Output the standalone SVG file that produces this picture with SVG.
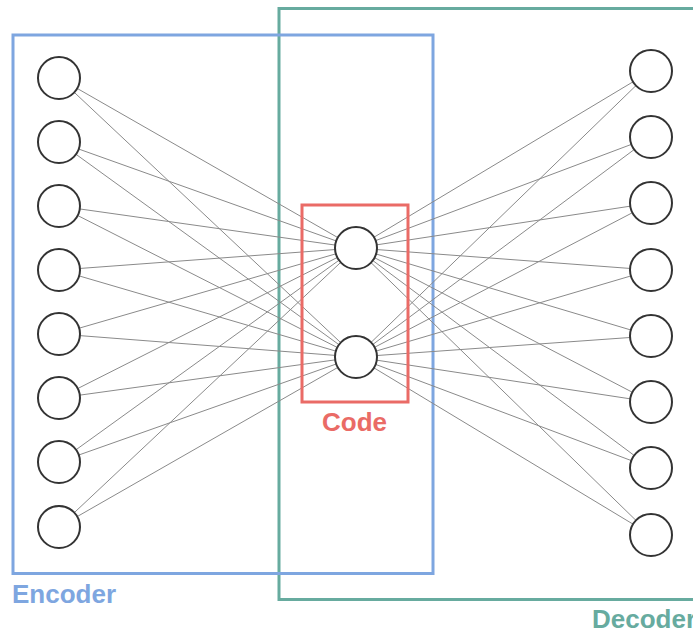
<svg xmlns="http://www.w3.org/2000/svg" width="693" height="630" viewBox="0 0 693 630">
<style>
.n{fill:#fff;stroke:#333;stroke-width:2}
.e{stroke:#8a8a8a;stroke-width:1}
.lbl{font-family:"Liberation Sans",Arial,sans-serif;font-weight:bold;font-size:26px}
</style>
<rect width="693" height="630" fill="#fff"/>
<g id="decoder">
<rect x="279" y="8.5" width="440" height="591" fill="none" stroke="#67AB9F" stroke-width="3"/>
<text class="lbl" x="592" y="628" fill="#67AB9F">Decoder</text>
</g>
<g id="encoder">
<rect x="13" y="35" width="420" height="538.5" fill="none" stroke="#7EA6E0" stroke-width="3"/>
<text class="lbl" x="12" y="603" fill="#7EA6E0">Encoder</text>
</g>
<g id="connectors">
<path class="e" d="M59 78L356 248M59 78L356 357M59 142L356 248M59 142L356 357M59 206L356 248M59 206L356 357M59 270L356 248M59 270L356 357M59 334L356 248M59 334L356 357M59 398L356 248M59 398L356 357M59 462L356 248M59 462L356 357M59 527L356 248M59 527L356 357"/>
<path class="e" d="M356 248L651 71M356 357L651 71M356 248L651 137M356 357L651 137M356 248L651 203M356 357L651 203M356 248L651 270M356 357L651 270M356 248L651 336M356 357L651 336M356 248L651 402M356 357L651 402M356 248L651 468M356 357L651 468M356 248L651 535M356 357L651 535"/>
</g>
<g id="code">
<rect x="302" y="205" width="106" height="197" fill="none" stroke="#EA6B66" stroke-width="3"/>
<text class="lbl" x="354.5" y="431" text-anchor="middle" fill="#EA6B66">Code</text>
</g>
<g id="in1"><circle class="n" cx="59" cy="78" r="21"/></g>
<g id="in2"><circle class="n" cx="59" cy="142" r="21"/></g>
<g id="in3"><circle class="n" cx="59" cy="206" r="21"/></g>
<g id="in4"><circle class="n" cx="59" cy="270" r="21"/></g>
<g id="in5"><circle class="n" cx="59" cy="334" r="21"/></g>
<g id="in6"><circle class="n" cx="59" cy="398" r="21"/></g>
<g id="in7"><circle class="n" cx="59" cy="462" r="21"/></g>
<g id="in8"><circle class="n" cx="59" cy="527" r="21"/></g>
<g id="c1"><circle class="n" cx="356" cy="248" r="21"/></g>
<g id="c2"><circle class="n" cx="356" cy="357" r="21"/></g>
<g id="out1"><circle class="n" cx="651" cy="71" r="21"/></g>
<g id="out2"><circle class="n" cx="651" cy="137" r="21"/></g>
<g id="out3"><circle class="n" cx="651" cy="203" r="21"/></g>
<g id="out4"><circle class="n" cx="651" cy="270" r="21"/></g>
<g id="out5"><circle class="n" cx="651" cy="336" r="21"/></g>
<g id="out6"><circle class="n" cx="651" cy="402" r="21"/></g>
<g id="out7"><circle class="n" cx="651" cy="468" r="21"/></g>
<g id="out8"><circle class="n" cx="651" cy="535" r="21"/></g>
</svg>
